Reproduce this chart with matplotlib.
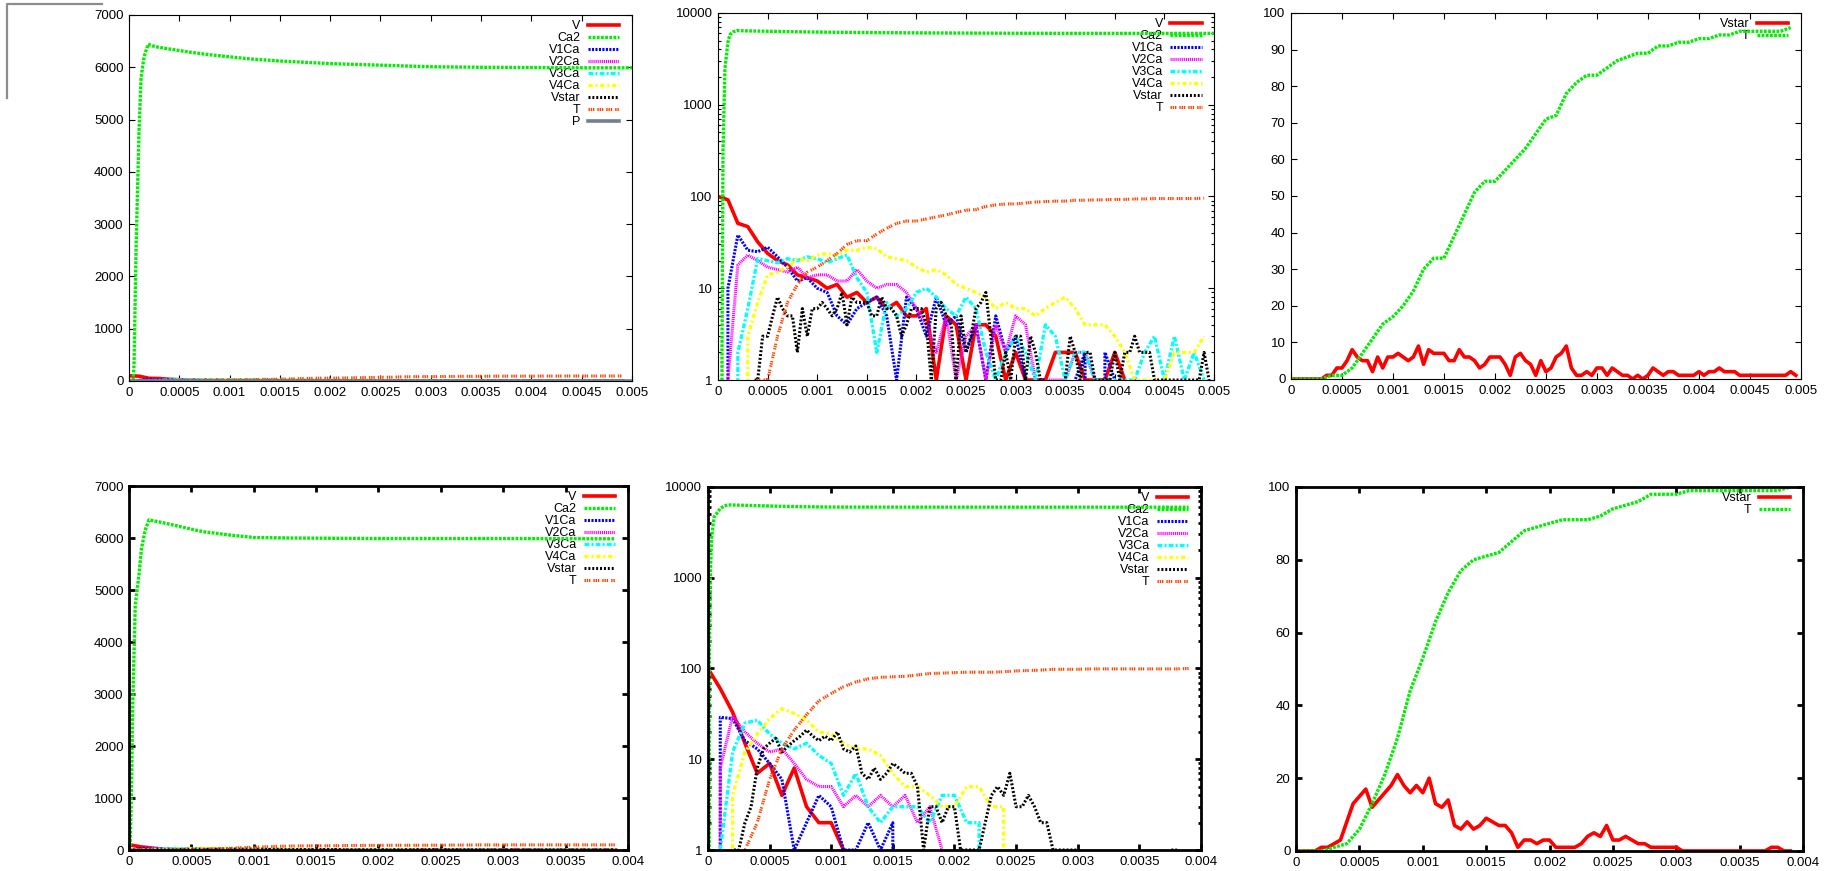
import numpy as np
import matplotlib
matplotlib.use('Agg')
import matplotlib.pyplot as plt
from matplotlib.ticker import FixedLocator, FuncFormatter, LogLocator, NullFormatter
from matplotlib.lines import Line2D

# Zeitachsen, Abtastung alle 0.1 ms (Vstar alle 0.05 ms)
t_top = np.round(np.arange(0, 0.005, 0.0001), 6)
t_bot = np.round(np.arange(0, 0.004, 0.0001), 6)
t_top_fein = np.round(np.arange(0, 0.005, 0.00005), 6)
t_bot_fein = np.round(np.arange(0, 0.00391, 0.00005), 6)

# ---- Lauf 1 (oben) ----
V_top = [100, 92, 51, 47, 32, 24, 20, 18, 14, 13,
         12, 10, 11, 8, 9, 7, 8, 6, 7, 5,
         5, 6, 1, 5, 4, 1, 4, 4, 3, 1,
         2, 1, 1, 1, 2, 2, 2, 1, 1, 1,
         2, 1, 0, 0, 0, 0, 0, 0, 0, 0]
V1Ca_top = [0, 10, 38, 26, 25, 28, 22, 17, 12, 13,
            10, 9, 5, 4, 6, 7, 8, 5, 1, 8,
            6, 3, 8, 4, 5, 2, 4, 1, 5, 2,
            3, 1, 0, 0, 0, 0, 1, 2, 0, 2,
            1, 0, 0, 0, 0, 0, 0, 0, 0, 0]
V2Ca_top = [0, 1, 18, 23, 20, 17, 16, 15, 17, 13,
            14, 14, 12, 12, 16, 12, 10, 11, 11, 9,
            6, 4, 2, 5, 1, 3, 4, 1, 4, 2,
            5, 4, 1, 1, 1, 1, 2, 2, 1, 0,
            0, 0, 1, 0, 0, 1, 0, 0, 0, 0]
V3Ca_top = [0, 0, 2, 6, 21, 20, 19, 21, 20, 22,
            21, 19, 21, 23, 13, 9, 2, 7, 5, 6,
            9, 10, 8, 6, 5, 8, 6, 2, 1, 2,
            3, 2, 1, 4, 3, 1, 2, 2, 1, 1,
            1, 1, 1, 2, 3, 1, 3, 1, 2, 1]
V4Ca_top = [0, 0, 0, 3, 7, 14, 15, 17, 21, 20,
            23, 24, 23, 26, 26, 28, 27, 22, 21, 20,
            17, 15, 16, 14, 11, 10, 9, 8, 6, 7,
            6, 6, 5, 6, 7, 8, 6, 4, 4, 4,
            3, 2, 1, 1, 1, 1, 2, 2, 2, 3]
Vstar_top = [0, 0, 0, 0, 0, 0, 0, 1, 1, 3,
             3, 5, 8, 6, 5, 5, 2, 6, 3, 6,
             6, 7, 6, 5, 6, 9, 4, 8, 7, 7,
             7, 5, 5, 8, 6, 6, 5, 3, 4, 6,
             6, 6, 4, 1, 6, 7, 5, 4, 1, 5,
             2, 3, 6, 7, 9, 3, 1, 1, 2, 1,
             3, 3, 1, 3, 2, 1, 1, 0, 1, 0,
             1, 3, 2, 1, 2, 2, 1, 1, 1, 1,
             2, 1, 2, 2, 3, 2, 2, 2, 1, 1,
             1, 1, 1, 1, 1, 1, 1, 1, 2, 1]
T_top = [0, 0, 0, 0, 1, 1, 3, 7, 11, 15,
         17, 20, 24, 30, 33, 33, 39, 45, 51, 54,
         54, 57, 60, 63, 67, 71, 72, 78, 81, 83,
         83, 85, 87, 88, 89, 89, 91, 91, 92, 92,
         93, 93, 94, 94, 95, 95, 95, 95, 95, 96]
Ca2_top_t = [0, 0.00004, 0.00005, 0.00007, 0.0001, 0.00012, 0.00015, 0.00019,
             0.00025, 0.0003, 0.0004, 0.0005, 0.0006, 0.0008, 0.001, 0.0012,
             0.0015, 0.002, 0.0025, 0.003, 0.0035, 0.004, 0.0045, 0.005]
Ca2_top = [0, 2, 300, 2500, 4800, 5800, 6200, 6440,
           6400, 6380, 6350, 6320, 6290, 6240, 6200, 6160,
           6120, 6070, 6040, 6010, 6000, 5995, 5990, 5990]
P_top_t = [0, 0.005]
P_top = [0, 0]

# ---- Lauf 2 (unten) ----
V_bot = [100, 60, 33, 15, 7, 9, 4, 8, 3, 2,
         2, 1, 0, 0, 0, 0, 0, 0, 0, 0,
         0, 0, 0, 0, 0, 0, 0, 0, 0, 0,
         0, 0, 0, 0, 0, 0, 0, 0, 0, 0]
V1Ca_bot = [0, 29, 28, 16, 13, 9, 6, 1, 2, 4,
            3, 1, 1, 2, 1, 2, 0, 0, 0, 0,
            0, 0, 0, 0, 0, 0, 0, 0, 0, 0,
            0, 0, 0, 0, 0, 0, 0, 0, 0, 0]
V2Ca_bot = [0, 8, 30, 20, 15, 12, 13, 9, 6, 5,
            5, 3, 4, 3, 4, 3, 4, 2, 3, 1,
            0, 0, 0, 0, 0, 0, 0, 0, 0, 0,
            0, 0, 0, 0, 0, 0, 0, 0, 0, 0]
V3Ca_bot = [0, 1, 12, 25, 27, 19, 15, 13, 15, 11,
            9, 4, 7, 3, 2, 3, 3, 3, 2, 4,
            4, 2, 2, 0, 0, 0, 0, 0, 0, 0,
            0, 0, 0, 0, 0, 0, 0, 0, 0, 0]
V4Ca_bot = [0, 0, 4, 12, 19, 28, 36, 32, 27, 20,
            19, 15, 13, 13, 11, 7, 5, 5, 4, 3,
            3, 5, 5, 3, 3, 0, 0, 0, 0, 0,
            0, 0, 0, 0, 0, 0, 0, 0, 0, 0]
Vstar_bot = [0, 0, 0, 0, 1, 1, 2, 3, 8, 13,
             15, 17, 12, 14, 16, 18, 21, 18, 16, 18,
             16, 20, 13, 12, 14, 7, 6, 8, 6, 7,
             9, 8, 7, 7, 5, 1, 3, 3, 2, 3,
             3, 1, 1, 1, 1, 2, 4, 5, 4, 7,
             3, 3, 4, 3, 2, 2, 1, 1, 1, 1,
             1, 0, 0, 0, 0, 0, 0, 0, 0, 0,
             0, 0, 0, 0, 0, 1, 1, 0, 0]
T_bot = [0, 0, 0, 1, 2, 6, 13, 21, 31, 44,
         53, 63, 71, 77, 80, 81, 82, 85, 88, 89,
         90, 91, 91, 91, 92, 94, 95, 96, 98, 98,
         98, 99, 99, 99, 99, 99, 99, 99, 99, 100]
Ca2_bot_t = [0, 0.00001, 0.00002, 0.00003, 0.00005, 0.00008, 0.0001, 0.00013,
             0.00016, 0.0002, 0.0003, 0.0005, 0.0006, 0.0008, 0.001, 0.0013,
             0.002, 0.003, 0.0039]
Ca2_bot = [0, 100, 1200, 2800, 4700, 5300, 5800, 6150,
           6350, 6330, 6280, 6170, 6120, 6060, 6010, 6000,
           5990, 5990, 5985]

# Linienstile (gnuplot-artig)
plt.rcParams['lines.scale_dashes'] = False
plt.rcParams['font.family'] = 'Liberation Sans'
sty = {
    'V':     dict(color='#ff0000', lw=2.6, ls='-'),
    'Ca2':   dict(color='#00ee00', lw=2.4, ls=(0, (2.0, 1.0))),
    'V1Ca':  dict(color='#0000ff', lw=2.2, ls=(0, (1.5, 1.0))),
    'V2Ca':  dict(color='#ff00ff', lw=2.2, ls=(0, (0.8, 0.6))),
    'V3Ca':  dict(color='#00ffff', lw=2.4, ls=(0, (3.5, 1.5, 1.5, 1.5))),
    'V4Ca':  dict(color='#ffff00', lw=2.4, ls=(0, (3.0, 2.0, 1.5, 2.0))),
    'Vstar': dict(color='#000000', lw=2.2, ls=(0, (1.4, 1.4))),
    'T':     dict(color='#ff4500', lw=2.2, ls=(0, (1.0, 0.6, 1.0, 0.6, 1.0, 2.2))),
    'P':     dict(color='#708090', lw=2.6, ls='-'),
}

fmt = FuncFormatter(lambda v, p: '%g' % v)


def achsen(ax, xmax, xstep, log=False, ymax=None, ystep=None, thick=False):
    lw = 2.0 if thick else 0.8
    ax.set_xlim(0, xmax)
    ax.xaxis.set_major_locator(FixedLocator(np.arange(0, xmax + 1e-9, xstep)))
    ax.xaxis.set_major_formatter(fmt)
    if log:
        ax.set_yscale('log', nonpositive='clip')
        ax.set_ylim(1, 10000)
        ax.yaxis.set_major_locator(LogLocator(base=10))
        ax.yaxis.set_minor_locator(LogLocator(base=10, subs=np.arange(2, 10)))
        ax.yaxis.set_minor_formatter(NullFormatter())
    else:
        ax.set_ylim(0, ymax)
        ax.yaxis.set_major_locator(FixedLocator(np.arange(0, ymax + 1e-9, ystep)))
    ax.yaxis.set_major_formatter(fmt)
    ax.tick_params(which='major', direction='in', top=True, right=True,
                   length=4, width=lw, labelsize=9.5, pad=4)
    ax.tick_params(which='minor', direction='in', left=True, right=True,
                   length=2.5, width=lw)
    for s in ax.spines.values():
        s.set_linewidth(lw)


def legende(ax):
    leg = ax.legend(loc='upper right', bbox_to_anchor=(0.985, 1.0), frameon=False,
                    markerfirst=False, fontsize=9, handlelength=2.5,
                    handletextpad=0.6, labelspacing=0.0, borderpad=0.2,
                    borderaxespad=0.2)
    for col in leg._legend_handle_box.get_children():
        col.align = 'right'
    leg.set_zorder(1)


def alle(ax, t, V, Ca2_t, Ca2, V1, V2, V3, V4, Vs_t, Vs, T):
    ax.plot(t, V, label='V', **sty['V'])
    ax.plot(Ca2_t, Ca2, label='Ca2', **sty['Ca2'])
    ax.plot(t, V1, label='V1Ca', **sty['V1Ca'])
    ax.plot(t, V2, label='V2Ca', **sty['V2Ca'])
    ax.plot(t, V3, label='V3Ca', **sty['V3Ca'])
    ax.plot(t, V4, label='V4Ca', **sty['V4Ca'])
    ax.plot(Vs_t, Vs, label='Vstar', **sty['Vstar'])
    ax.plot(t, T, label='T', **sty['T'])


fig = plt.figure(figsize=(18.27, 8.71), dpi=100)

ax1 = fig.add_axes([0.0706, 0.5626, 0.2753, 0.4202])
ax2 = fig.add_axes([0.3930, 0.5637, 0.2715, 0.4214])
ax3 = fig.add_axes([0.7066, 0.5649, 0.2791, 0.4202])
ax4 = fig.add_axes([0.0706, 0.0241, 0.2731, 0.4179])
ax5 = fig.add_axes([0.3875, 0.0241, 0.2698, 0.4168])
ax6 = fig.add_axes([0.7094, 0.0230, 0.2775, 0.4179])

# oben links: linear, alle Spezies + P
alle(ax1, t_top, V_top, Ca2_top_t, Ca2_top, V1Ca_top, V2Ca_top, V3Ca_top, V4Ca_top,
     t_top_fein, Vstar_top, T_top)
ax1.plot(P_top_t, P_top, label='P', **sty['P'])
achsen(ax1, 0.005, 0.0005, ymax=7000, ystep=1000)
legende(ax1)

# oben mitte: log
alle(ax2, t_top, V_top, Ca2_top_t, Ca2_top, V1Ca_top, V2Ca_top, V3Ca_top, V4Ca_top,
     t_top_fein, Vstar_top, T_top)
achsen(ax2, 0.005, 0.0005, log=True)
legende(ax2)

# oben rechts: Vstar und T
ax3.plot(t_top_fein, Vstar_top, label='Vstar', **sty['V'])
ax3.plot(t_top, T_top, label='T', **sty['Ca2'])
achsen(ax3, 0.005, 0.0005, ymax=100, ystep=10)
legende(ax3)

# unten links
alle(ax4, t_bot, V_bot, Ca2_bot_t, Ca2_bot, V1Ca_bot, V2Ca_bot, V3Ca_bot, V4Ca_bot,
     t_bot_fein, Vstar_bot, T_bot)
achsen(ax4, 0.004, 0.0005, ymax=7000, ystep=1000, thick=True)
legende(ax4)

# unten mitte
alle(ax5, t_bot, V_bot, Ca2_bot_t, Ca2_bot, V1Ca_bot, V2Ca_bot, V3Ca_bot, V4Ca_bot,
     t_bot_fein, Vstar_bot, T_bot)
achsen(ax5, 0.004, 0.0005, log=True, thick=True)
legende(ax5)

# unten rechts
ax6.plot(t_bot_fein, Vstar_bot, label='Vstar', **sty['V'])
ax6.plot(t_bot, T_bot, label='T', **sty['Ca2'])
achsen(ax6, 0.004, 0.0005, ymax=100, ystep=20, thick=True)
legende(ax6)

# graue Ecke oben links
W, H = 1827.0, 871.0
fig.add_artist(Line2D([7 / W, 7 / W, 102 / W], [1 - 98 / H, 1 - 4 / H, 1 - 4 / H],
                      transform=fig.transFigure, color='#8c8c8c', lw=1.6))

fig.savefig('out.png', dpi=100)
